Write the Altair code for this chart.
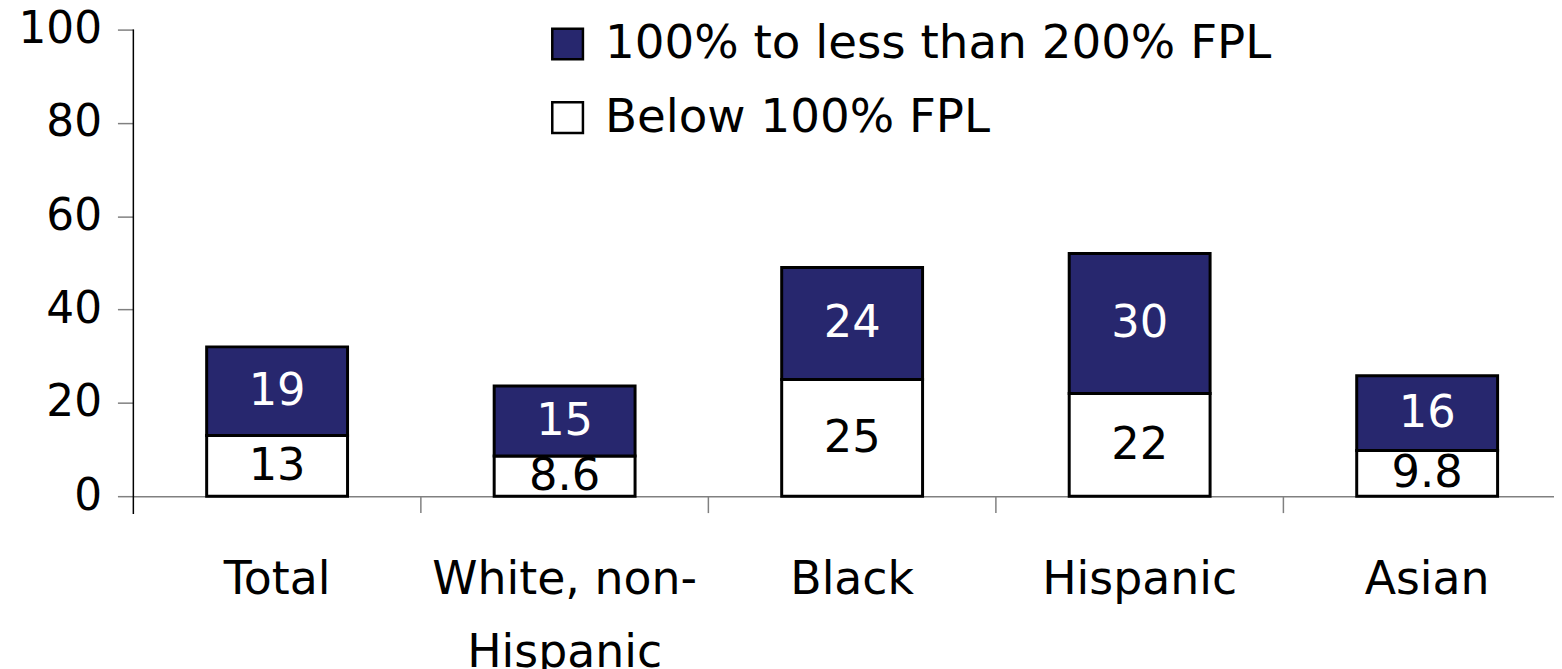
import altair as alt
import pandas as pd

categories = ["Total", "White, non-Hispanic", "Black", "Hispanic", "Asian"]
below_100 = [13, 8.6, 25, 22, 9.8]
between_100_200 = [19, 15, 24, 30, 16]
series = ["100% to less than 200% FPL", "Below 100% FPL"]
y_ticks = [0, 20, 40, 60, 80, 100]

rows = []
for c, b, m in zip(categories, below_100, between_100_200):
    rows.append({"cat": c, "series": series[1], "value": b, "ord": 0, "txt": str(b)})
    rows.append({"cat": c, "series": series[0], "value": m, "ord": 1, "txt": str(m)})
df = pd.DataFrame(rows)

W, H = 1428, 469
NAVY = "#27276E"
FONT = "DejaVu Sans"

xenc = alt.X("cat:N", sort=categories,
             scale=alt.Scale(range=[0, 1445], paddingInner=0, paddingOuter=0),
             axis=alt.Axis(title=None, labelAngle=0, ticks=False, domainColor="#808080",
                           domainWidth=1.5, labelFontSize=46, labelColor="black",
                           labelPadding=62, labelLineHeight=73, labelBaseline="top", labelLimit=2000,
                           labelExpr="datum.value == 'White, non-Hispanic' ? ['White, non-', 'Hispanic'] : datum.label"))

base = alt.Chart(df).transform_stack(
    stack="value", groupby=["cat"], sort=[alt.SortField("ord", order="ascending")], as_=["y0", "y1"]
).transform_calculate(mid="(datum.y0 + datum.y1) / 2")

bars = base.mark_bar(stroke="black", strokeWidth=3, width=alt.RelativeBandSize(0.49)).encode(
    x=xenc,
    y=alt.Y("y0:Q", scale=alt.Scale(domain=[0, 100]),
            axis=alt.Axis(title=None, values=y_ticks, grid=False, domain=False, tickColor="#808080",
                          tickSize=16, tickWidth=1.5, labelFontSize=44, labelColor="black",
                          labelPadding=16)),
    y2="y1:Q",
    fill=alt.Color("series:N", scale=alt.Scale(domain=series, range=[NAVY, "white"]),
                   legend=alt.Legend(title=None, orient="none", legendX=413, legendY=-9,
                                     symbolType="square", symbolSize=950, symbolStrokeColor="black",
                                     symbolStrokeWidth=2.5, labelFontSize=47, labelColor="black",
                                     labelOffset=14, rowPadding=26, labelLimit=2000)),
)

labels = base.mark_text(fontSize=45, baseline="middle", align="center").encode(
    x=alt.X("cat:N", sort=categories),
    y=alt.Y("mid:Q"),
    text="txt:N",
    color=alt.Color("series:N", scale=alt.Scale(domain=series, range=["white", "black"]), legend=None),
)

yline = alt.Chart(pd.DataFrame({"k": [0]})).mark_rule(color="black", strokeWidth=1.5).encode(
    x=alt.value(0), y=alt.value(0), y2=alt.value(H + 18)
)

cat_ticks = alt.Chart(pd.DataFrame({"cat": categories[1:]})).mark_rule(color="#808080", strokeWidth=1.5).encode(
    x=alt.X("cat:N", sort=categories, bandPosition=0),
    y=alt.value(H), y2=alt.value(H + 17)
)

chart = alt.layer(bars, labels, cat_ticks, yline).resolve_scale(color="independent").properties(
    width=W, height=H,
    autosize=alt.AutoSizeParams(type="none"),
    padding={"left": 126, "top": 20, "right": 0, "bottom": 172},
).configure(font=FONT).configure_view(stroke=None)

chart.save("out.html", embed_options={"renderer": "svg", "actions": False})
